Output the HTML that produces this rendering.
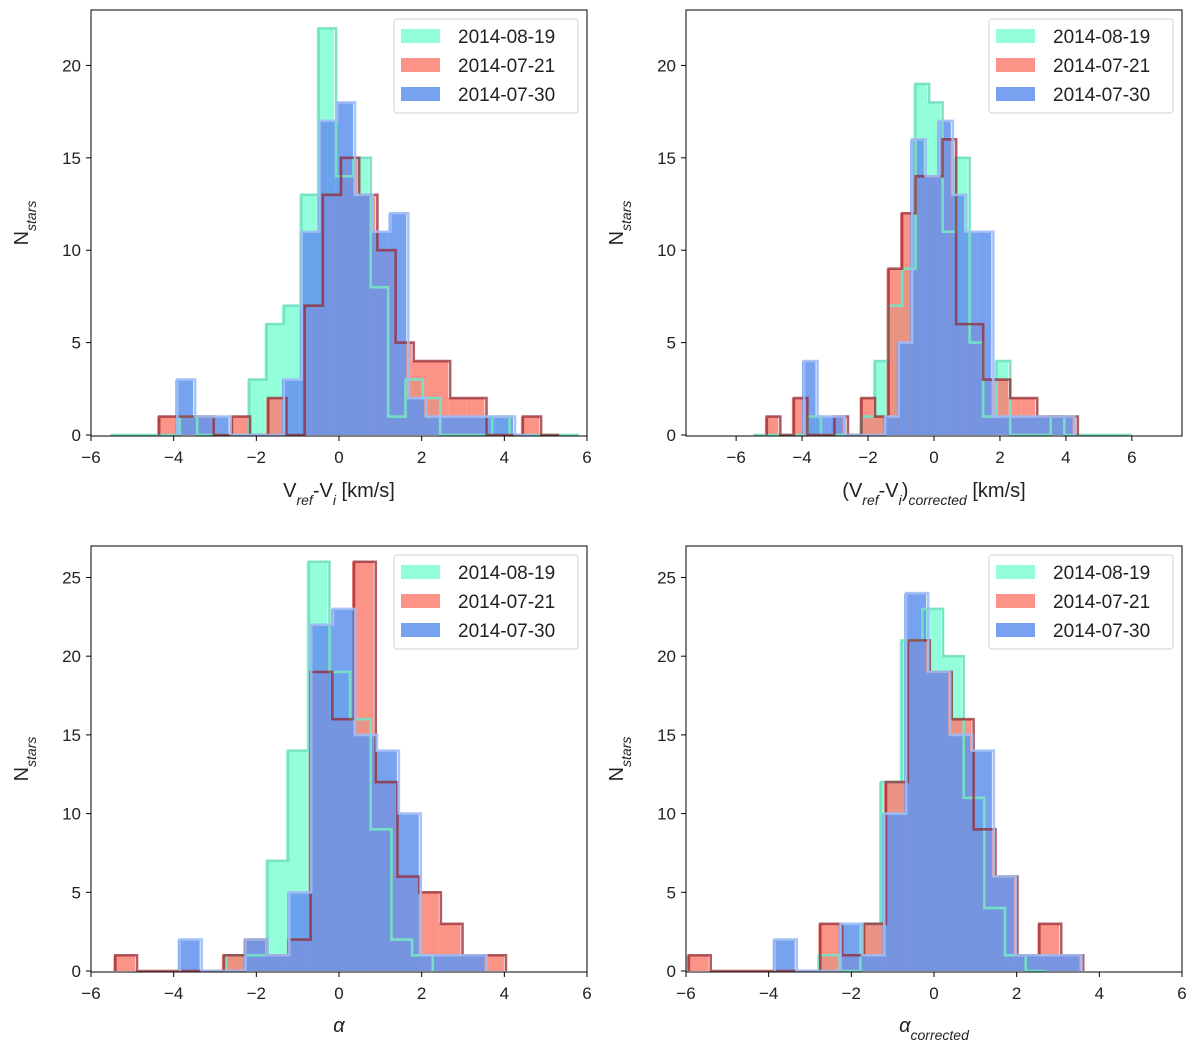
<!DOCTYPE html>
<html><head><meta charset="utf-8">
<style>
body{margin:0;background:#fff;}
svg{display:block;font-family:"Liberation Sans","DejaVu Sans",sans-serif;}
</style></head>
<body>
<svg id="fig" width="1200" height="1044" viewBox="0 0 1200 1044" xmlns="http://www.w3.org/2000/svg"></svg>
<script>
// ---- data: series labels ----
const seriesLabels = ["2014-08-19", "2014-07-21", "2014-07-30"];
// ---- panel 1: Vref-Vi ----
const p1GreenStart = -5.58, p1GreenWidth = 0.42;
const p1GreenCounts = [0,0,0,0,1,0,0,0,3,6,7,13,22,14,15,8,1,3,2,0,0,0,1,0,0,0,0];
const p1RedStart = -4.40, p1RedWidth = 0.44;
const p1RedCounts = [1,1,1,0,1,0,2,0,7,13,15,13,10,5,4,4,2,2,0,0,1,0];
const p1BlueStart = -3.96, p1BlueWidth = 0.43;
const p1BlueCounts = [3,1,1,0,0,0,3,11,17,18,13,11,12,2,1,1,1,1,1,0];
// ---- panel 2: corrected V ----
const p2GreenStart = -5.54, p2GreenWidth = 0.41;
const p2GreenCounts = [0,0,0,0,1,0,0,0,1,4,7,9,19,18,11,15,5,1,4,0,0,0,1,0,0,0,0,0];
const p2RedStart = -5.13, p2RedWidth = 0.41;
const p2RedCounts = [1,0,2,0,0,1,0,2,1,9,12,14,14,16,6,6,3,3,2,2,1,1,1];
const p2BlueStart = -4.0, p2BlueWidth = 0.41;
const p2BlueCounts = [4,1,1,0,0,0,1,5,16,14,17,13,11,11,1,1,1,1,1,1];
// ---- panel 3: alpha ----
const p3GreenStart = -2.78, p3GreenWidth = 0.5;
const p3GreenCounts = [1,1,7,14,26,19,16,9,2,1];
const p3RedStart = -5.46, p3RedWidth = 0.525;
const p3RedCounts = [1,0,0,0,0,1,2,1,2,19,16,26,12,6,5,3,1,1];
const p3BlueStart = -3.9, p3BlueWidth = 0.53;
const p3BlueCounts = [2,0,0,2,1,5,22,23,15,14,10,1,1,1];
// ---- panel 4: alpha corrected ----
const p4GreenStart = -2.83, p4GreenWidth = 0.5;
const p4GreenCounts = [1,0,3,12,21,23,20,11,4,1,0];
const p4RedStart = -5.98, p4RedWidth = 0.53;
const p4RedCounts = [1,0,0,0,0,0,3,1,3,12,21,19,16,9,6,1,3,1];
const p4BlueStart = -3.9, p4BlueWidth = 0.53;
const p4BlueCounts = [2,0,0,3,1,10,24,19,15,14,6,1,1,1];
// ---- ticks ----
const xTicksA = [-6,-4,-2,0,2,4,6];
const yTicksTop = [0,5,10,15,20];
const yTicksBottom = [0,5,10,15,20,25];

const NS = "http://www.w3.org/2000/svg";
const svg = document.getElementById("fig");
function mk(tag, attrs, parent){const e=document.createElementNS(NS,tag);for(const k in attrs)e.setAttribute(k,attrs[k]);(parent||svg).appendChild(e);return e;}

const fills = ["rgba(127,255,212,0.85)","rgba(250,128,114,0.85)","rgba(100,149,237,0.88)"];
const edges = ["rgba(118,226,196,0.95)","rgba(150,40,50,0.75)","rgba(160,188,245,0.9)"];

const panels = [
 {id:"p1", x0:91,x1:587,y0:10,y1:436, xmin:-6,xmax:6, ymax:23.0, yTicks:yTicksTop, xlabel:'V<tspan baseline-shift="sub" font-size="14" font-style="italic">ref</tspan>-V<tspan baseline-shift="sub" font-size="14" font-style="italic">i</tspan> [km/s]', lx:339, ly:497,
  series:[[p1GreenStart,p1GreenWidth,p1GreenCounts],[p1RedStart,p1RedWidth,p1RedCounts],[p1BlueStart,p1BlueWidth,p1BlueCounts]]},
 {id:"p2", x0:686,x1:1182,y0:10,y1:436, xmin:-7.52,xmax:7.52, ymax:23.0, yTicks:yTicksTop, xlabel:'(V<tspan baseline-shift="sub" font-size="14" font-style="italic">ref</tspan>-V<tspan baseline-shift="sub" font-size="14" font-style="italic">i</tspan>)<tspan baseline-shift="sub" font-size="14" font-style="italic">corrected</tspan> [km/s]', lx:934, ly:497,
  series:[[p2GreenStart,p2GreenWidth,p2GreenCounts],[p2RedStart,p2RedWidth,p2RedCounts],[p2BlueStart,p2BlueWidth,p2BlueCounts]]},
 {id:"p3", x0:91,x1:587,y0:546,y1:972, xmin:-6,xmax:6, ymax:27.0, yTicks:yTicksBottom, xlabel:'<tspan font-style="italic">α</tspan>', lx:339, ly:1032,
  series:[[p3GreenStart,p3GreenWidth,p3GreenCounts],[p3RedStart,p3RedWidth,p3RedCounts],[p3BlueStart,p3BlueWidth,p3BlueCounts]]},
 {id:"p4", x0:686,x1:1182,y0:546,y1:972, xmin:-6,xmax:6, ymax:27.0, yTicks:yTicksBottom, xlabel:'<tspan font-style="italic">α</tspan><tspan baseline-shift="sub" font-size="14" font-style="italic">corrected</tspan>', lx:934, ly:1032,
  series:[[p4GreenStart,p4GreenWidth,p4GreenCounts],[p4RedStart,p4RedWidth,p4RedCounts],[p4BlueStart,p4BlueWidth,p4BlueCounts]]}
];
const sNames=["green","red","blue"];

panels.forEach(p=>{
  const g = mk("g",{});
  
  
  const ybase = p.y1-1;
  const xs = v => p.x0 + (v-p.xmin)/(p.xmax-p.xmin)*(p.x1-p.x0);
  const ys = v => ybase - v/p.ymax*(ybase-p.y0);
  const clipId = "clip-"+p.id;
  const cp = mk("clipPath",{id:clipId},g); mk("rect",{x:p.x0,y:p.y0,width:p.x1-p.x0,height:p.y1-p.y0},cp);
  const plot = mk("g",{"clip-path":"url(#"+clipId+")"},g);
  // fills
  p.series.forEach((s,si)=>{
    const [st,w,c]=s;
    c.forEach((v,i)=>{
      if(v<=0) return;
      const r = mk("rect",{x:xs(st+i*w),y:ys(v),width:xs(st+(i+1)*w)-xs(st+i*w),height:ybase-ys(v),fill:fills[si]},plot);
      
      
    });
  });
  // outlines
  p.series.forEach((s,si)=>{
    const [st,w,c]=s;
    let d="M"+(xs(st)+2)+","+ybase;
    c.forEach((v,i)=>{d+=" L"+(xs(st+i*w)+2)+","+ys(v)+" L"+(xs(st+(i+1)*w)+2)+","+ys(v);});
    d+=" L"+(xs(st+c.length*w)+2)+","+ybase;
    const pa = mk("path",{d:d,fill:"none",stroke:edges[si],"stroke-width":2.6,"stroke-linejoin":"miter"},plot);
    
    
  });
  // frame
  const fr = mk("rect",{x:p.x0,y:p.y0,width:p.x1-p.x0,height:p.y1-p.y0,fill:"none",stroke:"#000","stroke-width":1},g);
  
  
  // x ticks
  xTicksA.forEach(t=>{
    const x=xs(t);
    mk("line",{x1:x,x2:x,y1:p.y1,y2:p.y1+5,stroke:"#000","stroke-width":1},g);
    const tx=mk("text",{x:x,y:p.y1+27,"font-size":17,"text-anchor":"middle",fill:"#222"},g);
    tx.textContent=(t<0?"−":"")+Math.abs(t);
    
    
  });
  // y ticks
  p.yTicks.forEach(t=>{
    const y=ys(t);
    mk("line",{x1:p.x0-5,x2:p.x0,y1:y,y2:y,stroke:"#000","stroke-width":1},g);
    const ty=mk("text",{x:p.x0-10,y:y+6,"font-size":17,"text-anchor":"end",fill:"#222"},g);
    ty.textContent=t;
    
    
  });
  // axis labels
  const xl=mk("text",{x:p.lx,y:p.ly,"font-size":20,"text-anchor":"middle",fill:"#222"},g);
  xl.innerHTML=p.xlabel;
  
  
  const yc=(p.y0+p.y1)/2, yx=p.x0-63;
  const yl=mk("text",{x:yx,y:yc,"font-size":20,"text-anchor":"middle",fill:"#222",transform:"rotate(-90 "+yx+" "+yc+")"},g);
  yl.innerHTML='N<tspan baseline-shift="sub" font-size="14" font-style="italic">stars</tspan>';
  
  
  // legend
  const lg=mk("g",{},g);
  
  
  const lx0=p.x1-193, ly0=p.y0+9;
  mk("rect",{x:lx0,y:ly0,width:184,height:94,rx:3,fill:"rgba(255,255,255,0.85)",stroke:"#d0d0d0","stroke-width":1},lg);
  seriesLabels.forEach((lab,i)=>{
    const cy=ly0+17+i*29;
    mk("rect",{x:lx0+7,y:cy-7,width:39,height:14,fill:fills[i]},lg);
    const lt=mk("text",{x:lx0+64,y:cy+7,"font-size":19,fill:"#222"},lg);
    lt.textContent=lab;
    
    
  });
});
</script>
</body></html>
